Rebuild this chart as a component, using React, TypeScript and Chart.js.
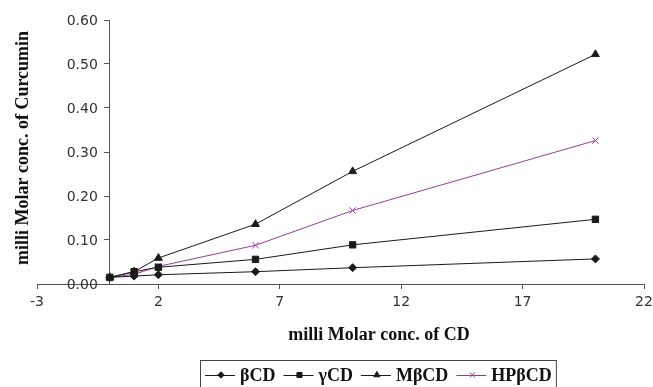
import { useEffect, useRef } from 'react';
import { Chart, registerables } from 'chart.js';
import { drawPoint } from 'chart.js/helpers';

Chart.register(...registerables);

const cdConc = [0, 1, 2, 6, 10, 20];
const betaCD = [0.015, 0.018, 0.021, 0.028, 0.037, 0.057];
const gammaCD = [0.015, 0.028, 0.038, 0.056, 0.089, 0.147];
const mBetaCD = [0.015, 0.028, 0.059, 0.136, 0.256, 0.522];
const hpBetaCD = [0.015, 0.022, 0.04, 0.088, 0.167, 0.326];
const seriesNames = ['βCD', 'γCD', 'MβCD', 'HPβCD'];
const xTickValues = [-3, 2, 7, 12, 17, 22];
const yTickValues = [0, 0.1, 0.2, 0.3, 0.4, 0.5, 0.6];
const xTitle = 'milli Molar conc. of CD';
const yTitle = 'milli Molar conc. of Curcumin';

const BLACK = '#1a1a1a';
const PURPLE = '#9b3a9b';
const AXIS = '#555';
const TICK_FONT = '14px "DejaVu Sans"';
const TITLE_FONT = 'bold 18px "Liberation Serif"';

const styles = [
  { color: BLACK, point: 'rectRot', radius: 4 },
  { color: BLACK, point: 'rect', radius: 4.5 },
  { color: BLACK, point: 'triangle', radius: 4.5 },
  { color: PURPLE, point: 'crossRot', radius: 4.5 },
];
const seriesValues = [betaCD, gammaCD, mBetaCD, hpBetaCD];

const overlay = {
  id: 'overlay',
  afterDraw(chart: any) {
    const ctx = chart.ctx as CanvasRenderingContext2D;
    const xs = chart.scales.x;
    const ys = chart.scales.y;
    const axisX = xs.getPixelForValue(0);
    ctx.save();
    // y tick labels
    ctx.font = TICK_FONT;
    ctx.fillStyle = '#333';
    ctx.textAlign = 'right';
    ctx.textBaseline = 'middle';
    ys.ticks.forEach((t: any) => {
      ctx.fillText(Number(t.value).toFixed(2), axisX - 12, ys.getPixelForValue(t.value) + 1);
    });
    // x title
    ctx.font = TITLE_FONT;
    ctx.fillStyle = '#111';
    ctx.textAlign = 'center';
    ctx.textBaseline = 'alphabetic';
    ctx.fillText(xTitle, 379, 340);
    // y title
    ctx.save();
    ctx.translate(28, 148);
    ctx.rotate(-Math.PI / 2);
    ctx.fillText(yTitle, 0, 0);
    ctx.restore();
    // legend
    ctx.font = TITLE_FONT;
    ctx.textAlign = 'left';
    let x = 205;
    const ly = 375;
    seriesNames.forEach((name, i) => {
      const st = styles[i];
      ctx.strokeStyle = st.color;
      ctx.lineWidth = 1;
      ctx.beginPath();
      ctx.moveTo(x, ly + 0.5);
      ctx.lineTo(x + 30, ly + 0.5);
      ctx.stroke();
      ctx.fillStyle = st.color;
      drawPoint(ctx, { pointStyle: st.point, radius: st.radius * 0.8, borderWidth: 1, rotation: 0 } as any, x + 16, ly);
      ctx.fillStyle = '#111';
      ctx.fillText(name, x + 35, 381);
      x += 35 + ctx.measureText(name).width + 8;
    });
    ctx.strokeStyle = '#444';
    ctx.lineWidth = 1;
    ctx.strokeRect(200.5, 360.5, x - 200 - 4, 40);
    ctx.restore();
  },
};

export default function App() {
  const ref = useRef<HTMLCanvasElement | null>(null);
  useEffect(() => {
    document.body.style.margin = '0';
    const canvas = ref.current;
    if (!canvas) return;
    const chart = new Chart(canvas, {
      type: 'line',
      data: {
        datasets: seriesNames.map((name, i) => ({
          label: name,
          data: cdConc.map((c, j) => ({ x: c, y: seriesValues[i][j] })),
          borderColor: styles[i].color,
          backgroundColor: styles[i].color,
          pointBackgroundColor: styles[i].color,
          pointBorderColor: styles[i].color,
          pointStyle: styles[i].point as any,
          pointRadius: styles[i].radius,
          pointBorderWidth: 1,
          borderWidth: 1,
          tension: 0,
          fill: false,
        })),
      },
      options: {
        animation: false,
        responsive: false,
        layout: { padding: { left: 37, right: 9, top: 20, bottom: 0 } },
        plugins: {
          legend: { display: false },
          tooltip: { enabled: false },
        },
        scales: {
          x: {
            type: 'linear',
            position: 'bottom',
            min: -3,
            max: 22,
            afterBuildTicks: (s: any) => {
              s.ticks = xTickValues.map((v) => ({ value: v }));
            },
            afterFit: (s: any) => {
              s.height = 103;
              s.paddingLeft = 0;
              s.paddingRight = 0;
            },
            grid: { drawOnChartArea: false, drawTicks: true, tickLength: 5, color: AXIS },
            border: { color: AXIS, width: 1 },
            ticks: {
              font: { family: 'DejaVu Sans', size: 14 },
              color: '#333',
              padding: 5,
              maxRotation: 0,
              autoSkip: false,
            },
          },
          y: {
            type: 'linear',
            position: { x: 0 } as any,
            min: 0,
            max: 0.6,
            afterBuildTicks: (s: any) => {
              s.ticks = yTickValues.map((v) => ({ value: v }));
            },
            afterFit: (s: any) => {
              s.width = 0;
              s.paddingTop = 0;
              s.paddingBottom = 0;
            },
            grid: { drawOnChartArea: false, drawTicks: true, tickLength: 5, color: AXIS },
            border: { color: AXIS, width: 1 },
            ticks: { display: false },
          },
        },
      },
      plugins: [overlay],
    });
    return () => chart.destroy();
  }, []);
  return (
    <div style={{ width: 653, height: 387 }}>
      <canvas ref={ref} width={653} height={387} style={{ display: 'block' }} />
    </div>
  );
}
